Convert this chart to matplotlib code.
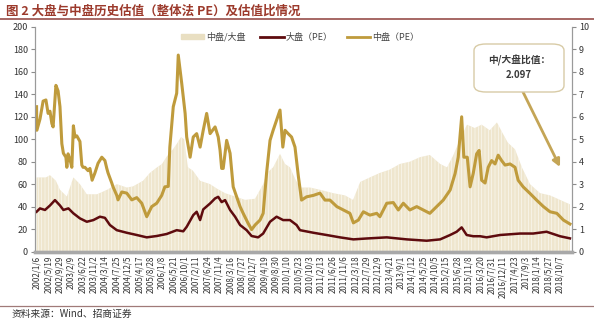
import matplotlib
matplotlib.use('Agg')
import matplotlib.pyplot as plt
from matplotlib.lines import Line2D
from matplotlib.patches import Patch, FancyBboxPatch
import pandas as pd

plt.rcParams['font.family'] = ['Noto Sans CJK SC', 'DejaVu Sans']
plt.rcParams['hatch.linewidth'] = 0.35

# ========== Data (time in decimal years) ==========

mid_t = [2002.00, 2002.01, 2002.11, 2002.21, 2002.30, 2002.37, 2002.43, 2002.49, 2002.53,
         2002.62, 2002.69, 2002.75, 2002.81, 2002.86, 2002.94, 2002.97, 2003.01, 2003.07,
         2003.13, 2003.18, 2003.23, 2003.29, 2003.39, 2003.45, 2003.49, 2003.55, 2003.65,
         2003.71, 2003.78, 2003.87, 2003.97, 2004.09, 2004.19, 2004.25, 2004.29, 2004.41,
         2004.45, 2004.57, 2004.61, 2004.73, 2004.89, 2005.05, 2005.21, 2005.37, 2005.53,
         2005.69, 2005.85, 2006.01, 2006.11, 2006.22, 2006.27, 2006.38, 2006.49, 2006.54,
         2006.65, 2006.76, 2006.81, 2006.92, 2007.02, 2007.13, 2007.24, 2007.34, 2007.45,
         2007.56, 2007.72, 2007.82, 2007.88, 2007.93, 2007.98, 2008.09, 2008.20, 2008.30,
         2008.41, 2008.52, 2008.62, 2008.78, 2008.89, 2009.00, 2009.16, 2009.26, 2009.37,
         2009.48, 2009.58, 2009.69, 2009.80, 2009.89, 2009.96, 2010.06, 2010.17, 2010.28,
         2010.39, 2010.49, 2010.65, 2010.87, 2011.08, 2011.24, 2011.40, 2011.62, 2011.83,
         2012.04, 2012.15, 2012.31, 2012.47, 2012.68, 2012.90, 2013.00, 2013.22, 2013.43,
         2013.59, 2013.75, 2013.96, 2014.18, 2014.39, 2014.60, 2014.82, 2015.03, 2015.25,
         2015.41, 2015.51, 2015.62, 2015.69, 2015.80, 2015.89, 2015.99, 2016.10, 2016.18,
         2016.26, 2016.37, 2016.47, 2016.58, 2016.69, 2016.79, 2016.90, 2017.01, 2017.17,
         2017.33, 2017.43, 2017.59, 2017.81, 2018.02, 2018.24, 2018.45, 2018.67, 2018.88,
         2019.09]
mid_pe = [129, 108, 118, 134, 135, 123, 125, 114, 111,
          148, 143, 129, 96, 87.5, 84, 75, 87, 82,
          75, 112, 102, 103, 98, 77, 75, 75, 72,
          74, 63.5, 70, 78.6, 84, 81, 74, 70, 61,
          57.6, 50, 46, 53, 52, 46, 48, 43, 31,
          40, 43, 50, 57.6, 58, 93, 129, 141, 175,
          150, 123, 102, 84, 102, 105, 93, 108, 123,
          105, 111, 102, 90, 74, 74, 99, 87.5, 57.6,
          48.7, 40, 34, 25, 19.5, 23.6, 28, 34, 70,
          99, 108, 117, 126, 93, 108, 105, 102, 93,
          66.5, 45.8, 48.7, 50, 52, 45.8, 45.8, 40, 37,
          34, 25.5, 28, 35.4, 32.4, 34, 31, 43, 43.6,
          37, 43, 37, 40, 37, 34, 40, 45.8, 54.7,
          69.5, 84, 120, 84, 84, 57.6, 69.5, 87, 90,
          63.5, 61, 75, 81, 78, 85.8, 81, 77, 78,
          75, 63.5, 57.6, 51.7, 45.8, 40, 35.4, 34, 28,
          24.5]

large_t = [2002.00, 2002.11, 2002.27, 2002.43, 2002.59, 2002.75, 2002.86, 2003.02, 2003.18,
           2003.39, 2003.61, 2003.82, 2004.03, 2004.19, 2004.35, 2004.57, 2004.89, 2005.21,
           2005.53, 2005.85, 2006.17, 2006.49, 2006.70, 2006.81, 2007.02, 2007.13, 2007.24,
           2007.34, 2007.56, 2007.72, 2007.82, 2007.93, 2008.04, 2008.20, 2008.36, 2008.52,
           2008.73, 2008.89, 2009.10, 2009.26, 2009.48, 2009.69, 2009.90, 2010.12, 2010.33,
           2010.44, 2010.87, 2011.29, 2011.72, 2012.15, 2012.58, 2013.22, 2013.86, 2014.50,
           2014.93, 2015.25, 2015.46, 2015.62, 2015.78, 2015.99, 2016.21, 2016.42, 2016.85,
           2017.49, 2017.91, 2018.34, 2018.77, 2019.09]
large_pe = [35.4, 38.4, 37, 41, 45.8, 41, 37, 38.4, 34,
            29.5, 26.5, 28, 31, 30, 23.6, 19, 16.7, 14.7,
            12.6, 13.8, 15.6, 19, 18, 22, 32.4, 35.4, 28,
            37.5, 42.8, 47.3, 48.7, 44, 45.8, 37, 31, 23.6,
            19, 13.8, 12.6, 16, 26.5, 31, 28, 28, 23.6,
            19, 16.7, 14.7, 12.6, 10.8, 11.6, 12.6, 10.8, 9.6,
            10.8, 14.7, 17.6, 21.5, 14.7, 13.6, 13.6, 12.6, 14.7,
            16, 16, 17.6, 13.6, 11.7]

ratio_t = [2002.00, 2002.30, 2002.43, 2002.62, 2002.75, 2002.97, 2003.18, 2003.39, 2003.61,
           2003.94, 2004.26, 2004.57, 2004.89, 2005.09, 2005.41, 2005.63, 2005.86, 2006.02,
           2006.18, 2006.34, 2006.47, 2006.63, 2006.73, 2006.85, 2007.01, 2007.24, 2007.56,
           2007.78, 2008.04, 2008.36, 2008.68, 2009.00, 2009.26, 2009.38, 2009.58, 2009.80,
           2009.96, 2010.12, 2010.28, 2010.44, 2010.76, 2011.08, 2011.50, 2011.88, 2012.14,
           2012.37, 2012.68, 2013.00, 2013.32, 2013.64, 2013.96, 2014.28, 2014.60, 2014.93,
           2015.15, 2015.34, 2015.57, 2015.79, 2016.04, 2016.26, 2016.52, 2016.75, 2016.94,
           2017.10, 2017.33, 2017.55, 2017.81, 2018.13, 2018.45, 2018.77, 2019.09]
ratio = [3.3, 3.3, 3.4, 3.15, 2.75, 2.45, 3.3, 3.0, 2.55,
         2.55, 2.75, 3.0, 2.85, 2.9, 3.15, 3.5, 3.75, 3.9,
         4.25, 4.5, 4.75, 5.1, 5.0, 3.75, 3.6, 3.15, 3.0,
         2.8, 2.6, 2.45, 2.3, 2.35, 3.0, 3.5, 3.75, 4.35,
         3.9, 3.75, 3.25, 2.85, 2.85, 2.75, 2.6, 2.5, 2.3,
         3.1, 3.3, 3.5, 3.65, 3.9, 4.0, 4.2, 4.3, 3.9,
         3.75, 4.25, 5.0, 5.65, 5.5, 5.65, 5.4, 5.75, 5.25,
         4.85, 4.55, 3.75, 3.0, 2.6, 2.5, 2.3, 2.1]

tick_dates = ['2002/1/6', '2002/5/19', '2002/9/29', '2003/2/9', '2003/6/22', '2003/11/2',
              '2004/3/14', '2004/7/25', '2004/12/5', '2005/4/17', '2005/8/28', '2006/1/8',
              '2006/5/21', '2006/10/1', '2007/2/11', '2007/6/24', '2007/11/4', '2008/3/16',
              '2008/7/27', '2008/12/7', '2009/4/19', '2009/8/30', '2010/1/10', '2010/5/23',
              '2010/10/3', '2011/2/13', '2011/6/26', '2011/11/6', '2012/3/18', '2012/7/29',
              '2012/12/9', '2013/4/21', '2013/9/1', '2014/1/12', '2014/5/25', '2014/10/5',
              '2015/2/15', '2015/6/28', '2015/11/8', '2016/3/20', '2016/7/31', '2016/12/11',
              '2017/4/23', '2017/9/3', '2018/1/14', '2018/5/27', '2018/10/7']

latest_ratio = '2.097'

# ========== Styles ==========

MID_COLOR = '#BF9B3C'
LARGE_COLOR = '#5E0B0E'
RATIO_COLOR = '#EFE6CE'
TITLE_COLOR = '#9C3A2C'


def decimal_year(s):
    d = pd.Timestamp(s.replace('/', '-'))
    days = 366 if d.is_leap_year else 365
    return d.year + (d.dayofyear - 1) / days


fig = plt.figure(figsize=(5.94, 3.23), dpi=100)
ax = fig.add_axes([35 / 594, 1 - 251.5 / 323, 537 / 594, 224.5 / 323])
ax2 = ax.twinx()

# ratio area sits behind the PE lines; white hatch gives the weekly-bar texture
ax2.fill_between(ratio_t, ratio, 0, facecolor=RATIO_COLOR, edgecolor='white',
                 hatch='|||||', lw=0)
ax.set_zorder(ax2.get_zorder() + 1)
ax.patch.set_visible(False)

ax.plot(large_t, large_pe, color=LARGE_COLOR, lw=1.8, solid_joinstyle='round')
ax.plot(mid_t, mid_pe, color=MID_COLOR, lw=2.2, solid_joinstyle='round')

ax.set_xlim(2001.95, 2019.155)
ax.set_ylim(0, 200)
ax2.set_ylim(0, 10)
ax.set_yticks(range(0, 201, 20))
ax2.set_yticks(range(0, 11))

ax.set_xticks([decimal_year(s) for s in tick_dates])
ax.set_xticklabels(tick_dates, rotation=90, fontsize=5.8, color='#333333')
ax.tick_params(axis='x', length=0, pad=3)
ax.tick_params(axis='y', direction='out', length=3, color='#8C8C8C', labelsize=6.5,
               labelcolor='#333333', pad=2)
ax2.tick_params(axis='y', direction='out', length=3, color='#8C8C8C', labelsize=6.5,
                labelcolor='#333333', pad=2)

for a in (ax, ax2):
    a.spines['top'].set_visible(False)
    a.spines['left'].set_color('#9A9A9A')
    a.spines['left'].set_linewidth(0.8)
    a.spines['right'].set_color('#9A9A9A')
    a.spines['right'].set_linewidth(0.8)
    a.spines['bottom'].set_color('#A8A8A8')
    a.spines['bottom'].set_linewidth(2.4)

# ========== Legend ==========

handles = [Patch(color='#E9DFC2', label='中盘/大盘'),
           Line2D([], [], color=LARGE_COLOR, lw=2, label='大盘（PE）'),
           Line2D([], [], color=MID_COLOR, lw=2, label='中盘（PE）')]
fig.legend(handles=handles, loc='center', bbox_to_anchor=(0.505, 1 - 37 / 323), ncol=3,
           frameon=False, fontsize=6.5, handlelength=2.6, handleheight=0.35,
           columnspacing=1.6, handletextpad=0.2, labelcolor='#444444')

# ========== Annotation box ==========

box = FancyBboxPatch((474 / 594, 1 - 92 / 323), 90 / 594, 48 / 323,
                     boxstyle='round,pad=0,rounding_size=0.02', transform=fig.transFigure,
                     fc='white', ec='#D8CBA6', lw=1.0, zorder=5)
fig.add_artist(box)
fig.text(519 / 594, 1 - 60 / 323, '中/大盘比值：', ha='center', va='center', fontsize=7,
         fontweight='bold', color='#3A3A3A', zorder=6)
fig.text(519 / 594, 1 - 75 / 323, latest_ratio, ha='center', va='center', fontsize=7,
         fontweight='bold', color='#3A3A3A', zorder=6)
ax.annotate('', xy=(560 / 594, 1 - 167 / 323), xycoords='figure fraction',
            xytext=(523 / 594, 1 - 92 / 323), textcoords='figure fraction',
            arrowprops=dict(arrowstyle='-|>', color='#C4A556', lw=2.0, mutation_scale=11,
                            shrinkA=0, shrinkB=0))

# ========== Title and source ==========

fig.text(6 / 594, 1 - 11 / 323, '图 2 大盘与中盘历史估值（整体法 PE）及估值比情况', fontsize=9,
         fontweight='bold', color=TITLE_COLOR, va='center')
fig.add_artist(Line2D([0, 1], [1 - 19 / 323] * 2, color='#8E3E3A', lw=1.1))
fig.add_artist(Line2D([0, 1], [1 - 306 / 323] * 2, color='#A07A78', lw=0.9))
fig.text(12 / 594, 1 - 314 / 323, '资料来源：Wind、招商证券', fontsize=7, color='#333333',
         va='center')

plt.savefig('out.png', dpi=100)
